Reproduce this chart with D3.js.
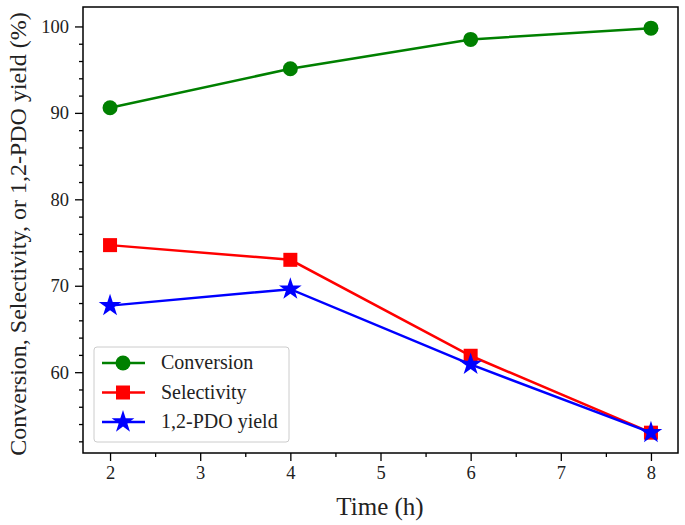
<!DOCTYPE html>
<html><head><meta charset="utf-8">
<script src="https://cdn.jsdelivr.net/npm/d3@7"></script>
<style>body{margin:0;background:#fff;} text{font-family:"Liberation Serif","Times New Roman",serif;}</style>
</head><body><svg id="c" width="685" height="525"></svg>
<script>
const times = [2, 4, 6, 8];
const conversion = [90.6, 95.1, 98.5, 99.8];
const selectivity = [74.7, 73.0, 61.9, 53.0];
const yieldPDO = [67.7, 69.6, 60.9, 53.0];
const seriesNames = ["Conversion", "Selectivity", "1,2-PDO yield"];
const xTicks = [2, 3, 4, 5, 6, 7, 8];
const yTicks = [60, 70, 80, 90, 100];

const svg = d3.select("#c");
const L = 83, R = 678, T = 7, B = 453;
const x = d3.scaleLinear().domain([1.7, 8.3]).range([L, R]);
const y = d3.scaleLinear().domain([50.65, 102.25]).range([B, T]);

const series = [
  {name: seriesNames[0], vals: conversion, color: "#008000", marker: "circle"},
  {name: seriesNames[1], vals: selectivity, color: "#ff0000", marker: "square"},
  {name: seriesNames[2], vals: yieldPDO, color: "#0000ff", marker: "star"}
];

function marker(g, type, color) {
  if (type === "circle") g.append("circle").attr("r", 7.5).attr("fill", color);
  else if (type === "square") g.append("rect").attr("x", -7).attr("y", -7).attr("width", 14).attr("height", 14).attr("fill", color);
  else g.append("path").attr("d", d3.symbol().type(d3.symbolStar).size(160)()).attr("fill", color);
}

const xAxis = d3.axisBottom(x).tickValues(xTicks).tickSize(8).tickPadding(5).tickFormat(d3.format("d"));
const xMinor = d3.axisBottom(x).tickValues([2.5, 3.5, 4.5, 5.5, 6.5, 7.5]).tickSize(4).tickFormat("");
const yAxis = d3.axisLeft(y).tickValues(yTicks).tickSize(8).tickPadding(6).tickFormat(d3.format("d"));
const yMinor = d3.axisLeft(y).tickValues(d3.range(52, 102, 2).filter(v => v % 10 !== 0)).tickSize(4).tickFormat("");

function styleAxis(g) {
  g.select(".domain").remove();
  g.selectAll("line").attr("stroke", "#000").attr("stroke-width", 1.3);
  g.selectAll("text").attr("font-size", 18.5).attr("fill", "#222").attr("font-family", "Liberation Serif, serif");
}
svg.append("g").attr("transform", `translate(0,${B})`).call(xAxis).call(styleAxis);
svg.append("g").attr("transform", `translate(0,${B})`).call(xMinor).call(styleAxis);
svg.append("g").attr("transform", `translate(${L},0)`).call(yAxis).call(styleAxis);
svg.append("g").attr("transform", `translate(${L},0)`).call(yMinor).call(styleAxis);

svg.append("rect").attr("x", L).attr("y", T).attr("width", R - L).attr("height", B - T)
  .attr("fill", "none").attr("stroke", "#000").attr("stroke-width", 1.5);

const line = d3.line().x((d, i) => x(times[i])).y(d => y(d));
series.forEach(s => {
  svg.append("path").datum(s.vals).attr("d", line).attr("fill", "none").attr("stroke", s.color).attr("stroke-width", 2.5);
  s.vals.forEach((v, i) => {
    const g = svg.append("g").attr("transform", `translate(${x(times[i])},${y(v)})`);
    marker(g, s.marker, s.color);
  });
});

const lg = svg.append("g");
lg.append("rect").attr("x", 94).attr("y", 347).attr("width", 195).attr("height", 95).attr("rx", 3)
  .attr("fill", "#fff").attr("fill-opacity", 0.8).attr("stroke", "#ccc").attr("stroke-width", 1);
series.forEach((s, i) => {
  const yy = 363 + i * 29.5;
  lg.append("line").attr("x1", 102).attr("x2", 145).attr("y1", yy).attr("y2", yy).attr("stroke", s.color).attr("stroke-width", 2.5);
  const g = lg.append("g").attr("transform", `translate(123,${yy})`);
  marker(g, s.marker, s.color);
  lg.append("text").attr("x", 161).attr("y", yy + 6).attr("font-size", 20).attr("fill", "#222").text(s.name);
});

svg.append("text").attr("x", 380).attr("y", 515).attr("text-anchor", "middle").attr("font-size", 25).attr("fill", "#222").text("Time (h)");
svg.append("text").attr("transform", `translate(26,${234}) rotate(-90)`).attr("text-anchor", "middle").attr("font-size", 24).attr("fill", "#222")
  .text("Conversion, Selectivity, or 1,2-PDO yield (%)");
</script></body></html>
